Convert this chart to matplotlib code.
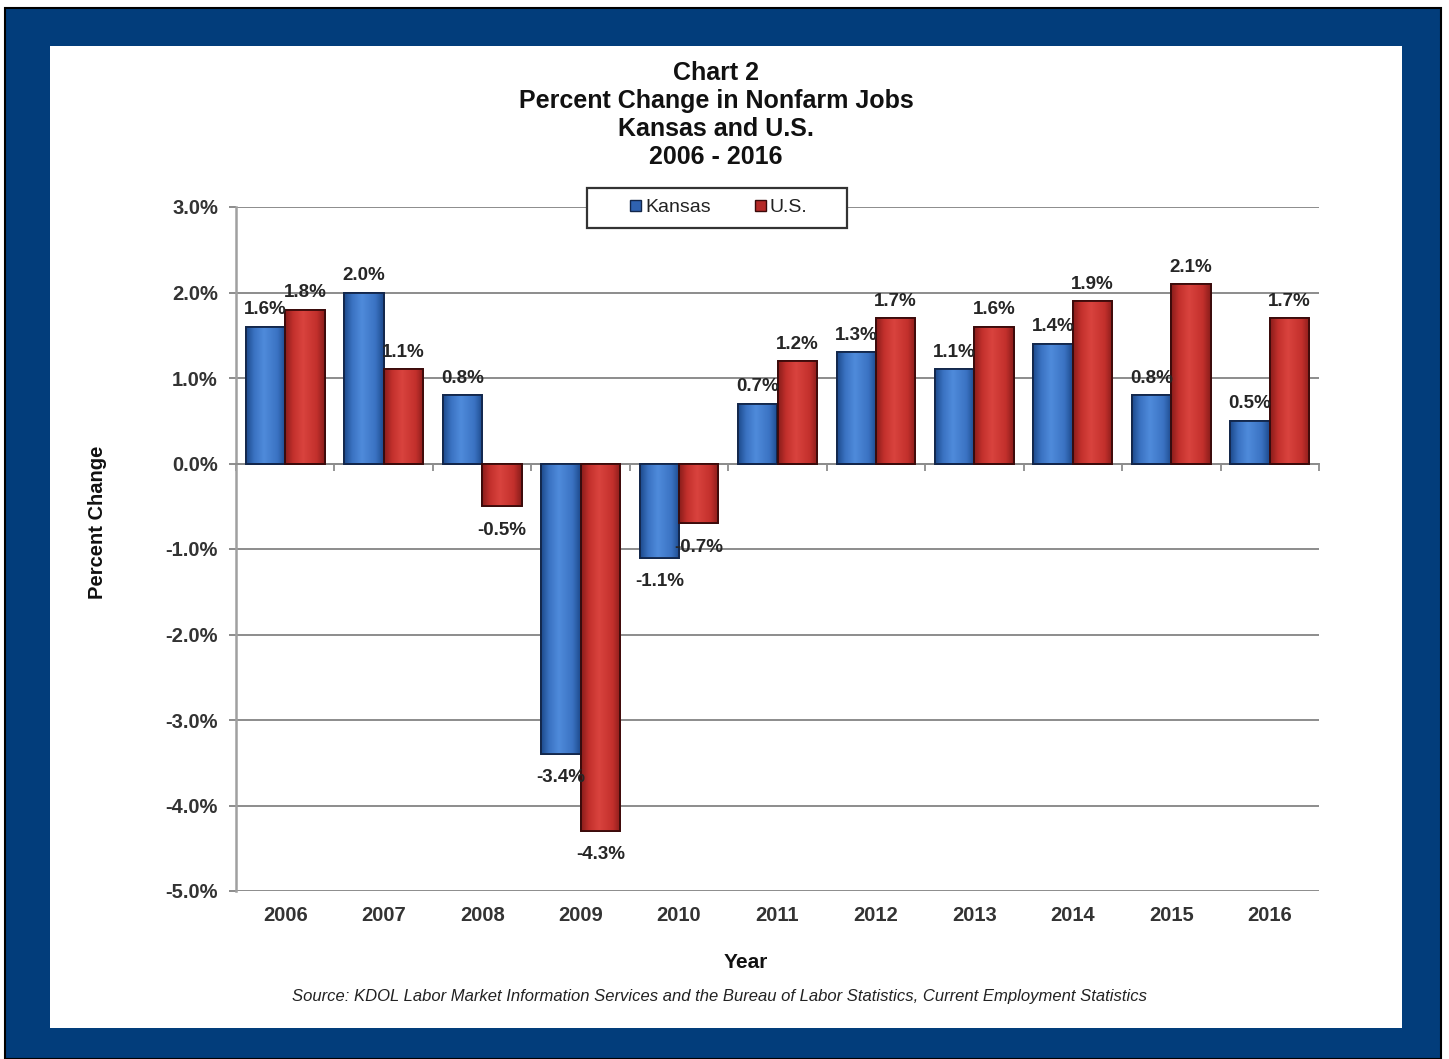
import matplotlib.pyplot as plt
import matplotlib.patches as mpatches
from matplotlib.colors import LinearSegmentedColormap
import numpy as np

plt.rcParams['font.family'] = ['Liberation Sans', 'DejaVu Sans']

# Data
years = ['2006', '2007', '2008', '2009', '2010', '2011', '2012', '2013', '2014', '2015', '2016']
kansas = [1.6, 2.0, 0.8, -3.4, -1.1, 0.7, 1.3, 1.1, 1.4, 0.8, 0.5]
us = [1.8, 1.1, -0.5, -4.3, -0.7, 1.2, 1.7, 1.6, 1.9, 2.1, 1.7]
yticks = [3, 2, 1, 0, -1, -2, -3, -4, -5]

W, H = 1449, 1059
fig = plt.figure(figsize=(W / 100, H / 100), dpi=100)
fig.patch.set_facecolor('white')

# blue frame with white panel
fig.patches.append(mpatches.Rectangle((5/W, 0), 1436/W, 1 - 8/H, transform=fig.transFigure,
                                      facecolor='#023d7b', edgecolor='black', linewidth=1.5, zorder=-3))
fig.patches.append(mpatches.Rectangle((50/W, 31/H), 1352/W, 982/H, transform=fig.transFigure,
                                      facecolor='white', edgecolor='none', zorder=-2))

ax = fig.add_axes([236/W, 168/H, 1083/W, 684/H])
ax.set_facecolor('white')

x = np.arange(len(years))
w = 0.4
bk = ax.bar(x - w/2, kansas, w, color='#3f78c8', edgecolor='#12264a', linewidth=1.3, zorder=3)
bu = ax.bar(x + w/2, us, w, color='#c9322e', edgecolor='#3a0a0a', linewidth=1.3, zorder=3)

# shaded look on the bars
shade_b = LinearSegmentedColormap.from_list('b', [(0, '#1d4a8c'), (0.2, '#3a72c2'), (0.45, '#4f8bdb'),
                                                  (0.8, '#3a72c2'), (1, '#1d4a8c')])
shade_r = LinearSegmentedColormap.from_list('r', [(0, '#8a1d1b'), (0.2, '#c3302c'), (0.45, '#d9433e'),
                                                  (0.8, '#c3302c'), (1, '#8a1d1b')])
grad = np.linspace(0, 1, 64).reshape(1, -1)
for bars, cmap in ((bk, shade_b), (bu, shade_r)):
    for b in bars:
        x0, y0 = b.get_xy()
        bw, bh = b.get_width(), b.get_height()
        im = ax.imshow(grad, cmap=cmap, aspect='auto', zorder=3.5, interpolation='bicubic',
                       extent=[x0, x0 + bw, min(y0, y0 + bh), max(y0, y0 + bh)])
        im.set_clip_path(b)
        edge = mpatches.Rectangle((x0, y0), bw, bh, fill=False, edgecolor=b.get_edgecolor(),
                                  linewidth=1.3, zorder=4)
        ax.add_patch(edge)

for bars, vals in ((bk, kansas), (bu, us)):
    for b, v in zip(bars, vals):
        xc = b.get_x() + b.get_width() / 2
        off = 6 if v >= 0 else -11
        ax.annotate(f'{v:.1f}%', (xc, v), xytext=(0, off), textcoords='offset points',
                    ha='center', va='bottom' if v >= 0 else 'top',
                    fontsize=13.5, fontweight='bold', color='#262626', zorder=5)

ax.set_xlim(-0.5, len(years) - 0.5)
ax.set_ylim(-5, 3)
ax.set_yticks(yticks)
ax.set_yticklabels([f'{t:.1f}%' for t in yticks], fontsize=14.5, fontweight='bold', color='#333333')
ax.grid(axis='y', color='#8c8c8c', linewidth=1.4, zorder=0)

for s in ('top', 'right'):
    ax.spines[s].set_visible(False)
ax.spines['left'].set_color('#a0a0a0')
ax.spines['left'].set_linewidth(1.8)
ax.spines['bottom'].set_position(('data', 0))
ax.spines['bottom'].set_color('#8c8c8c')
ax.spines['bottom'].set_linewidth(1.4)
ax.set_xticks(np.arange(len(years) + 1) - 0.5)
ax.set_xticklabels([])
ax.tick_params(axis='x', length=5, color='#8c8c8c', width=1.3)
ax.tick_params(axis='y', length=5, color='#8c8c8c', width=1.4, pad=8)

for xi, yr in zip(x, years):
    ax.text(xi, -0.036, yr, transform=ax.get_xaxis_transform(), ha='center', va='center',
            fontsize=14.5, fontweight='bold', color='#333333')

fig.text(98/W, 1 - 522/H, 'Percent Change', rotation=90, ha='center', va='center',
         fontsize=14.5, fontweight='bold', color='#111111')
fig.text(746/W, 1 - 962/H, 'Year', ha='center', va='center',
         fontsize=15, fontweight='bold', color='#111111')
fig.text(720/W, 1 - 997/H,
         'Source: KDOL Labor Market Information Services and the Bureau of Labor Statistics, Current Employment Statistics',
         ha='center', va='center', fontsize=12, style='italic', color='#222222')
fig.text(716/W, 1 - 115/H, 'Chart 2\nPercent Change in Nonfarm Jobs\nKansas and U.S.\n2006 - 2016',
         ha='center', va='center', fontsize=18, fontweight='bold', color='#111111',
         linespacing=1.22)

# legend box
fig.patches.append(mpatches.Rectangle((587/W, 1 - 228/H), 260/W, 40/H, transform=fig.transFigure,
                                      facecolor='white', edgecolor='#333333', linewidth=1.6, zorder=5))
h1 = mpatches.Patch(facecolor='#2f62b0', edgecolor='#12264a')
h2 = mpatches.Patch(facecolor='#b52a28', edgecolor='#3a0a0a')
leg = fig.legend([h1, h2], ['Kansas', 'U.S.'], loc='center', bbox_to_anchor=(719/W, 1 - 208/H),
                 ncol=2, frameon=False, fontsize=14, handlelength=0.55, handleheight=0.55,
                 handletextpad=0.2, columnspacing=2.3, borderpad=0.2)
for t in leg.get_texts():
    t.set_color('#222222')
leg.set_zorder(6)

plt.savefig('out.png', dpi=100)
